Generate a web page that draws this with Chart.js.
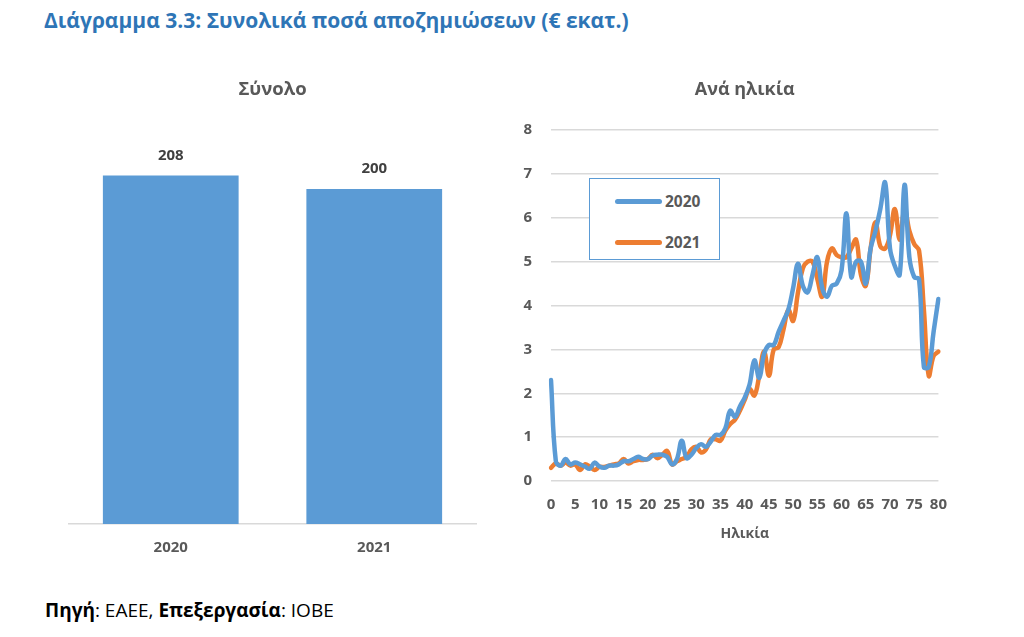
<!DOCTYPE html>
<html>
<head>
<meta charset="utf-8">
<script src="https://cdn.jsdelivr.net/npm/chart.js@4.4.0/dist/chart.umd.min.js"></script>
<style>
  html, body { margin: 0; padding: 0; background: #fff; }
  body { width: 1024px; height: 637px; position: relative; overflow: hidden; font-family: "Open Sans", sans-serif; }
  #title { position: absolute; left: 44px; top: 6px; font-size: 21px; font-weight: bold; color: #2E75B6; white-space: nowrap; }
  #source { position: absolute; left: 45px; top: 597px; font-size: 19px; color: #000; white-space: nowrap; }
  #c1 { position: absolute; left: 40px; top: 70px; }
  #c2 { position: absolute; left: 500px; top: 70px; }
  #legend { position: absolute; left: 589px; top: 178px; width: 129px; height: 80px; border: 1.5px solid #5B9BD5; background: #fff; }
  .li { position: absolute; left: 25px; height: 20px; font-size: 15.5px; font-weight: bold; color: #595959; }
  .li span.sw { position: absolute; left: 0; top: 8px; width: 47px; height: 4.5px; border-radius: 3px; }
  .li span.tx { position: absolute; left: 50px; top: -1px; }
</style>
</head>
<body>
<div id="title">Διάγραμμα 3.3: Συνολικά ποσά αποζημιώσεων (€ εκατ.)</div>
<canvas id="c1" width="470" height="500" style="width:470px;height:500px"></canvas>
<canvas id="c2" width="462" height="480" style="width:462px;height:480px"></canvas>
<div id="legend"></div>
<div id="source"><b>Πηγή</b>: ΕΑΕΕ, <b>Επεξεργασία</b>: ΙΟΒΕ</div>
<script>
// ---- data ----
const totalYears = ['2020', '2021'];
const totalValues = [208, 200];

const ages = [];
for (let a = 0; a <= 80; a++) ages.push(String(a));

const values2020 = [
  2.3, 0.45, 0.35, 0.5, 0.38, 0.42, 0.38, 0.33, 0.28, 0.42,
  0.33, 0.3, 0.35, 0.35, 0.38, 0.45, 0.45, 0.5, 0.55, 0.5,
  0.5, 0.58, 0.6, 0.6, 0.55, 0.38, 0.5, 0.92, 0.52, 0.6,
  0.75, 0.84, 0.78, 0.9, 1.05, 1.05, 1.2, 1.6, 1.46, 1.7,
  1.9, 2.2, 2.75, 2.35, 2.9, 3.1, 3.1, 3.4, 3.65, 3.9,
  4.4, 4.95, 4.45, 4.3, 4.7, 5.1, 4.4, 4.2, 4.45, 4.5,
  4.8, 6.1, 4.65, 5.0, 5.0, 4.5, 5.3, 5.7, 6.2, 6.8,
  5.3, 4.9, 4.7, 6.75, 5.1, 4.65, 4.6, 2.6, 2.6, 3.4,
  4.15
];
const values2021 = [
  0.3, 0.4, 0.35, 0.42, 0.35, 0.38, 0.25, 0.38, 0.33, 0.25,
  0.32, 0.32, 0.35, 0.38, 0.4, 0.5, 0.4, 0.45, 0.48, 0.48,
  0.5, 0.6, 0.52, 0.6, 0.68, 0.38, 0.45, 0.5, 0.55, 0.72,
  0.78, 0.65, 0.72, 0.95, 0.95, 0.92, 1.15, 1.3, 1.4, 1.6,
  1.85, 2.1, 1.95, 2.4, 2.95, 2.4, 3.0, 3.05, 3.45, 3.9,
  3.65, 4.3, 4.85, 5.0, 5.0, 4.6, 4.2, 5.0, 5.3, 5.15,
  5.1, 5.1, 5.3, 5.5, 4.7, 4.45, 5.3, 5.9, 5.35, 5.3,
  5.6, 6.2, 5.5, 6.2, 5.7, 5.4, 5.25, 3.9, 2.4, 2.85,
  2.95
];
const seriesLabels = ['2020', '2021'];
const yTicksRight = [0, 1, 2, 3, 4, 5, 6, 7, 8];

const BLUE = '#5B9BD5', ORANGE = '#ED7D31', GRAY = '#595959', GRID = '#D9D9D9';
const FONT = '"Open Sans", sans-serif';
Chart.defaults.font.family = FONT;
Chart.defaults.color = GRAY;

// ---- bar chart ----
const barLabels = {
  id: 'barLabels',
  afterDatasetsDraw(chart) {
    const ctx = chart.ctx;
    ctx.save();
    ctx.font = 'bold 15px ' + FONT;
    ctx.fillStyle = '#404040';
    ctx.textAlign = 'center';
    ctx.textBaseline = 'middle';
    chart.getDatasetMeta(0).data.forEach((bar, i) => {
      ctx.fillText(String(chart.data.datasets[0].data[i]), bar.x, bar.y - 20);
    });
    ctx.restore();
  }
};

new Chart(document.getElementById('c1'), {
  type: 'bar',
  data: {
    labels: totalYears,
    datasets: [{ data: totalValues, backgroundColor: BLUE, categoryPercentage: 1, barPercentage: 0.667 }]
  },
  options: {
    responsive: false, animation: false,
    layout: { padding: { left: 29, right: 34, top: 0, bottom: 0 } },
    plugins: {
      legend: { display: false }, tooltip: { enabled: false },
      title: { display: true, text: 'Σύνολο', color: GRAY, font: { size: 18.5, weight: 'bold' }, padding: { top: 9, bottom: 4 } }
    },
    scales: {
      y: { display: false, min: 0, max: 250 },
      x: {
        grid: { display: false, drawTicks: false },
        border: { display: true, color: GRID, width: 1.5 },
        ticks: { color: GRAY, font: { size: 15, weight: 'bold' }, padding: 15 },
        afterFit(s) { s.height = 46; }
      }
    }
  },
  plugins: [barLabels]
});

// ---- line chart ----
new Chart(document.getElementById('c2'), {
  type: 'line',
  data: {
    labels: ages,
    datasets: [
      { label: seriesLabels[0], data: values2020, borderColor: BLUE, borderWidth: 4.5, pointRadius: 0, tension: 0.4, cubicInterpolationMode: 'default', borderCapStyle: 'round', borderJoinStyle: 'round' },
      { label: seriesLabels[1], data: values2021, borderColor: ORANGE, borderWidth: 4.5, pointRadius: 0, tension: 0.4, cubicInterpolationMode: 'default', borderCapStyle: 'round', borderJoinStyle: 'round' }
    ]
  },
  options: {
    responsive: false, animation: false,
    layout: { padding: { left: 0, right: 12, top: 0, bottom: 0 } },
    plugins: {
      legend: { display: false }, tooltip: { enabled: false },
      title: { display: true, fullSize: false, text: 'Ανά ηλικία', color: GRAY, font: { size: 18, weight: 'bold' }, padding: { top: 9, bottom: 29.4 } }
    },
    scales: {
      y: {
        min: 0, max: 8,
        afterBuildTicks(s) { s.ticks = yTicksRight.map(v => ({ value: v })); },
        grid: { color: GRID, lineWidth: 1.5, drawTicks: false },
        border: { display: false },
        ticks: { color: GRAY, font: { size: 15, weight: 'bold' }, padding: 19 },
        afterFit(s) { s.width = 51; }
      },
      x: {
        offset: false,
        grid: { display: false, drawTicks: false },
        border: { display: false },
        ticks: {
          color: GRAY, font: { size: 15, weight: 'bold' }, padding: 15,
          autoSkip: false, maxRotation: 0,
          callback(v, i) { return i % 5 === 0 ? ages[i] : ''; }
        },
        title: { display: true, text: 'Ηλικία', color: GRAY, font: { size: 14, weight: 'bold' }, padding: { top: 0, bottom: 8 } },
        afterFit(s) { s.height = 69; }
      }
    }
  }
});

// ---- legend ----
const lg = document.getElementById('legend');
[[seriesLabels[0], BLUE, 12], [seriesLabels[1], ORANGE, 53]].forEach(([t, c, top]) => {
  const d = document.createElement('div');
  d.className = 'li';
  d.style.top = top + 'px';
  d.innerHTML = '<span class="sw" style="background:' + c + '"></span><span class="tx">' + t + '</span>';
  lg.appendChild(d);
});
</script>
</body>
</html>
